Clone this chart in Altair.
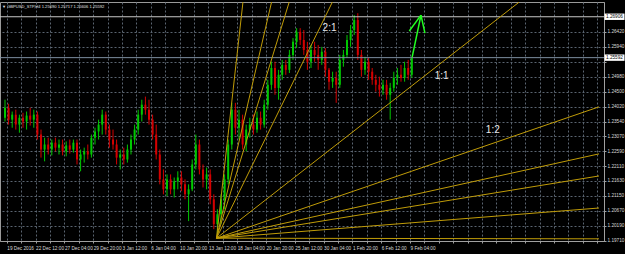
import altair as alt
import pandas as pd

# ---------------- data (GBPUSD H4) ----------------
opens = [1.2366,1.2398,1.2360,1.2376,1.2344,1.2366,1.2354,1.2373,1.2360,1.2376,
 1.2312,1.2264,1.2280,1.2264,1.2286,1.2270,1.2280,1.2258,1.2277,1.2264,
 1.2286,1.2232,1.2248,1.2258,1.2248,1.2302,1.2322,1.2344,1.2376,1.2328,
 1.2296,1.2280,1.2238,1.2248,1.2232,1.2264,1.2296,1.2328,1.2376,1.2408,
 1.2392,1.2360,1.2312,1.2248,1.2168,1.2136,1.2168,1.2136,1.2162,1.2174,
 1.2152,1.2120,1.2136,1.2216,1.2280,1.2200,1.2168,1.2184,1.2104,1.2024,
 1.2056,1.2104,1.2168,1.2280,1.2392,1.2334,1.2360,1.2280,1.2328,1.2344,
 1.2328,1.2366,1.2344,1.2408,1.2472,1.2526,1.2462,1.2504,1.2536,1.2520,
 1.2568,1.2610,1.2642,1.2616,1.2584,1.2546,1.2584,1.2568,1.2552,1.2578,
 1.2520,1.2482,1.2494,1.2472,1.2552,1.2568,1.2616,1.2648,1.2680,1.2568,
 1.2520,1.2546,1.2514,1.2488,1.2472,1.2456,1.2472,1.2440,1.2462,1.2494,
 1.2504,1.2494,1.2526,1.2504]
highs = [1.2424,1.2411,1.2386,1.2392,1.2376,1.2382,1.2386,1.2398,1.2392,1.2386,
 1.2328,1.2302,1.2302,1.2296,1.2302,1.2296,1.2296,1.2290,1.2296,1.2296,
 1.2296,1.2264,1.2270,1.2280,1.2312,1.2334,1.2360,1.2392,1.2386,1.2344,
 1.2328,1.2296,1.2264,1.2270,1.2280,1.2312,1.2344,1.2392,1.2424,1.2434,
 1.2424,1.2376,1.2344,1.2264,1.2200,1.2184,1.2184,1.2174,1.2194,1.2194,
 1.2168,1.2152,1.2232,1.2312,1.2296,1.2216,1.2206,1.2200,1.2120,1.2072,
 1.2120,1.2184,1.2296,1.2414,1.2414,1.2392,1.2376,1.2344,1.2366,1.2376,
 1.2386,1.2386,1.2424,1.2488,1.2546,1.2546,1.2520,1.2552,1.2552,1.2584,
 1.2622,1.2654,1.2654,1.2648,1.2610,1.2600,1.2610,1.2600,1.2594,1.2590,
 1.2526,1.2514,1.2514,1.2568,1.2584,1.2632,1.2664,1.2696,1.2702,1.2584,
 1.2562,1.2558,1.2526,1.2504,1.2498,1.2488,1.2488,1.2478,1.2514,1.2526,
 1.2536,1.2546,1.2552,1.2562]
lows = [1.2354,1.2344,1.2334,1.2328,1.2318,1.2334,1.2328,1.2341,1.2334,1.2296,
 1.2238,1.2226,1.2248,1.2245,1.2258,1.2248,1.2245,1.2242,1.2251,1.2254,
 1.2216,1.2194,1.2222,1.2232,1.2238,1.2280,1.2296,1.2312,1.2312,1.2270,
 1.2264,1.2216,1.2200,1.2216,1.2222,1.2248,1.2280,1.2312,1.2354,1.2376,
 1.2344,1.2296,1.2232,1.2152,1.2120,1.2114,1.2120,1.2110,1.2136,1.2130,
 1.2104,1.2034,1.2130,1.2200,1.2184,1.2142,1.2136,1.2088,1.2008,1.1989,
 1.2024,1.2072,1.2152,1.2264,1.2312,1.2296,1.2264,1.2258,1.2302,1.2312,
 1.2318,1.2328,1.2334,1.2392,1.2456,1.2440,1.2424,1.2488,1.2504,1.2510,
 1.2552,1.2590,1.2600,1.2568,1.2520,1.2526,1.2546,1.2520,1.2536,1.2498,
 1.2456,1.2462,1.2414,1.2462,1.2530,1.2558,1.2594,1.2632,1.2552,1.2498,
 1.2504,1.2488,1.2472,1.2450,1.2434,1.2440,1.2424,1.2360,1.2450,1.2472,
 1.2482,1.2482,1.2488,1.2494]
closes = [1.2398,1.2360,1.2376,1.2344,1.2366,1.2354,1.2373,1.2360,1.2376,1.2312,
 1.2264,1.2280,1.2264,1.2286,1.2270,1.2280,1.2258,1.2277,1.2264,1.2286,
 1.2232,1.2248,1.2258,1.2248,1.2302,1.2322,1.2344,1.2376,1.2328,1.2296,
 1.2280,1.2238,1.2248,1.2232,1.2264,1.2296,1.2328,1.2376,1.2408,1.2392,
 1.2360,1.2312,1.2248,1.2168,1.2136,1.2168,1.2136,1.2162,1.2174,1.2152,
 1.2120,1.2136,1.2216,1.2280,1.2200,1.2168,1.2184,1.2104,1.2024,1.2056,
 1.2104,1.2168,1.2280,1.2392,1.2334,1.2360,1.2280,1.2328,1.2344,1.2328,
 1.2366,1.2344,1.2408,1.2472,1.2526,1.2462,1.2504,1.2536,1.2520,1.2568,
 1.2610,1.2642,1.2616,1.2584,1.2546,1.2584,1.2568,1.2552,1.2578,1.2520,
 1.2482,1.2494,1.2472,1.2552,1.2568,1.2616,1.2648,1.2680,1.2568,1.2520,
 1.2546,1.2514,1.2488,1.2472,1.2456,1.2472,1.2440,1.2462,1.2494,1.2504,
 1.2494,1.2526,1.2504,1.2559]
candle_bar = [2 * i for i in range(len(opens))]   # H4 bar index of each candle

time_labels = ["19 Dec 2016", "22 Dec 12:00", "27 Dec 04:00", "29 Dec 20:00",
               "3 Jan 12:00", "6 Jan 04:00", "10 Jan 20:00", "13 Jan 12:00",
               "18 Jan 04:00", "20 Jan 20:00", "25 Jan 12:00", "30 Jan 04:00",
               "1 Feb 20:00", "6 Feb 12:00", "9 Feb 04:00"]
price_ticks = [1.26420, 1.25940, 1.25460, 1.24980, 1.24500, 1.24020, 1.23540,
               1.23070, 1.22590, 1.22110, 1.21630, 1.21150, 1.20670, 1.20190, 1.19710]
hidden_tick = 1.25460

# Gann fan
fan_start_bar = 117.5
fan_start_price = 1.1979
fan_end_bar = [132.2, 148.1, 157.9, 181.9, 285.7, 330, 330, 330, 330, 330]
fan_end_price = [1.2738, 1.2738, 1.2738, 1.2738, 1.2738, 1.2401, 1.2250, 1.2179, 1.2076, 1.1977]

fan_text = ["2:1", "1:1", "1:2"]
fan_text_bar = [180.3, 242.6, 271.0]
fan_text_price = [1.2654, 1.2500, 1.2327]

# green arrow (bar, price) segments
arrow_bar = [226.2, 231.1, 231.1]
arrow_price = [1.2561, 1.2696, 1.2696]
arrow_bar2 = [231.1, 224.6, 233.3]
arrow_price2 = [1.2696, 1.2645, 1.2638]

level_prices = [1.26906, 1.25592]
level_colors = ["#c8c8c8", "#7d8ea0"]

header = "▼ GBPUSD_STP,H4 1.25690 1.25717 1.25606 1.25592"

X_DOMAIN = [0, 330]
Y_DOMAIN = [1.1970, 1.2738]
FONT = "Liberation Sans Narrow, Liberation Sans, Arial"

# ---------------- tables ----------------
candles = pd.DataFrame({"bar": candle_bar, "open": opens, "high": highs,
                        "low": lows, "close": closes})
candles["dir"] = ["up" if c >= o else "down" for o, c in zip(opens, closes)]

fan = pd.DataFrame({"x": [fan_start_bar] * len(fan_end_bar), "y": [fan_start_price] * len(fan_end_bar),
                    "x2": fan_end_bar, "y2": fan_end_price})
arrow = pd.DataFrame({"x": arrow_bar, "y": arrow_price, "x2": arrow_bar2, "y2": arrow_price2})
fan_lbl = pd.DataFrame({"bar": fan_text_bar, "price": fan_text_price, "t": fan_text})
levels = pd.DataFrame({"price": level_prices, "color": level_colors,
                       "t": [f"{p:.5f}" for p in level_prices]})

xs = alt.Scale(domain=X_DOMAIN, nice=False, zero=False)
ys = alt.Scale(domain=Y_DOMAIN, nice=False, zero=False)

arr = "[" + ",".join(f"'{s}'" for s in time_labels) + "]"
x_label_expr = (f"((datum.value-1)%16==0 && (datum.value-1)/16 < {len(time_labels)}) ? "
                f"{arr}[(datum.value-1)/16] : ''")
y_label_expr = f"abs(datum.value-{hidden_tick})<0.00001 ? '' : format(datum.value, '.5f')"

LBL = 4.7
x_axis = alt.Axis(values=[1 + 8 * i for i in range(42)], labelExpr=x_label_expr,
                  labelAlign="left", labelPadding=2, labelFontSize=LBL, labelFont=FONT,
                  labelColor="#d8d8d8", tickSize=2, tickColor="#a0a0a0",
                  grid=True, gridColor="#5a6470", gridDash=[2, 2], gridWidth=1,
                  domainColor="#a0a0a0", title=None, labelOverlap=False, labelFlush=False)
y_axis = alt.Axis(orient="right", values=price_ticks, labelExpr=y_label_expr,
                  labelPadding=1, labelFontSize=LBL, labelFont=FONT, labelColor="#d8d8d8",
                  tickSize=2, tickColor="#a0a0a0", grid=True, gridColor="#5a6470",
                  gridDash=[2, 2], gridWidth=1, domainColor="#a0a0a0", title=None,
                  labelOverlap=False, labelFlush=False)


def X(field):
    return alt.X(field, scale=xs, axis=x_axis)


def Y(field):
    return alt.Y(field, scale=ys, axis=y_axis)


cscale = alt.Scale(domain=["up", "down"], range=["#00c800", "#d40000"])

base_c = alt.Chart(candles)
wicks = base_c.mark_rule(strokeWidth=1, clip=True).encode(
    x=X("bar:Q"), y=Y("low:Q"), y2="high:Q",
    color=alt.Color("dir:N", scale=cscale, legend=None),
)
bodies = base_c.mark_bar(size=2, clip=True).encode(
    x=X("bar:Q"), y=Y("open:Q"), y2="close:Q",
    color=alt.Color("dir:N", scale=cscale, legend=None),
)

level_lines = alt.Chart(levels).mark_rule(strokeWidth=1).encode(
    y=Y("price:Q"), color=alt.Color("color:N", scale=None))

fan_lines = alt.Chart(fan).mark_rule(strokeWidth=1, color="#c09c08", clip=True).encode(
    x=X("x:Q"), y=Y("y:Q"), x2="x2:Q", y2="y2:Q")

arrow_lines = alt.Chart(arrow).mark_rule(strokeWidth=1.5, color="#22ff22", clip=True).encode(
    x=X("x:Q"), y=Y("y:Q"), x2="x2:Q", y2="y2:Q")

fan_labels = alt.Chart(fan_lbl).mark_text(font="Liberation Sans", fontSize=10, color="#e8e8e8",
                                          align="center", baseline="middle").encode(
    x=X("bar:Q"), y=Y("price:Q"), text="t:N")

box_path = "M-1,-0.32L1,-0.32L1,0.32L-1,0.32Z"
level_boxes = alt.Chart(levels).mark_point(shape=box_path, size=400, filled=True,
                                           color="#ffffff", opacity=1, strokeWidth=0).encode(
    x=alt.value(614.5), y=Y("price:Q"))
level_text = alt.Chart(levels).mark_text(font=FONT, fontSize=LBL, color="#000000",
                                         align="left", baseline="middle").encode(
    x=alt.value(606), y=Y("price:Q"), text="t:N")

head = alt.Chart(pd.DataFrame({"t": [header]})).mark_text(
    font=FONT, fontSize=4.1, color="#e0e0e0", align="left", baseline="middle").encode(
    x=alt.value(2), y=alt.value(4.5), text="t:N")

chart = alt.layer(wicks, bodies, level_lines, fan_lines, arrow_lines, fan_labels,
                  level_boxes, level_text, head).properties(
    width=604, height=239,
    background="#000000",
    autosize=alt.AutoSizeParams(type="none"),
    padding={"left": 0, "top": 2, "right": 21, "bottom": 13},
).configure_view(stroke="#9a9a9a", strokeWidth=1).configure_axis(domainWidth=1)

chart.save("out.html", embed_options={"renderer": "svg", "actions": False})
